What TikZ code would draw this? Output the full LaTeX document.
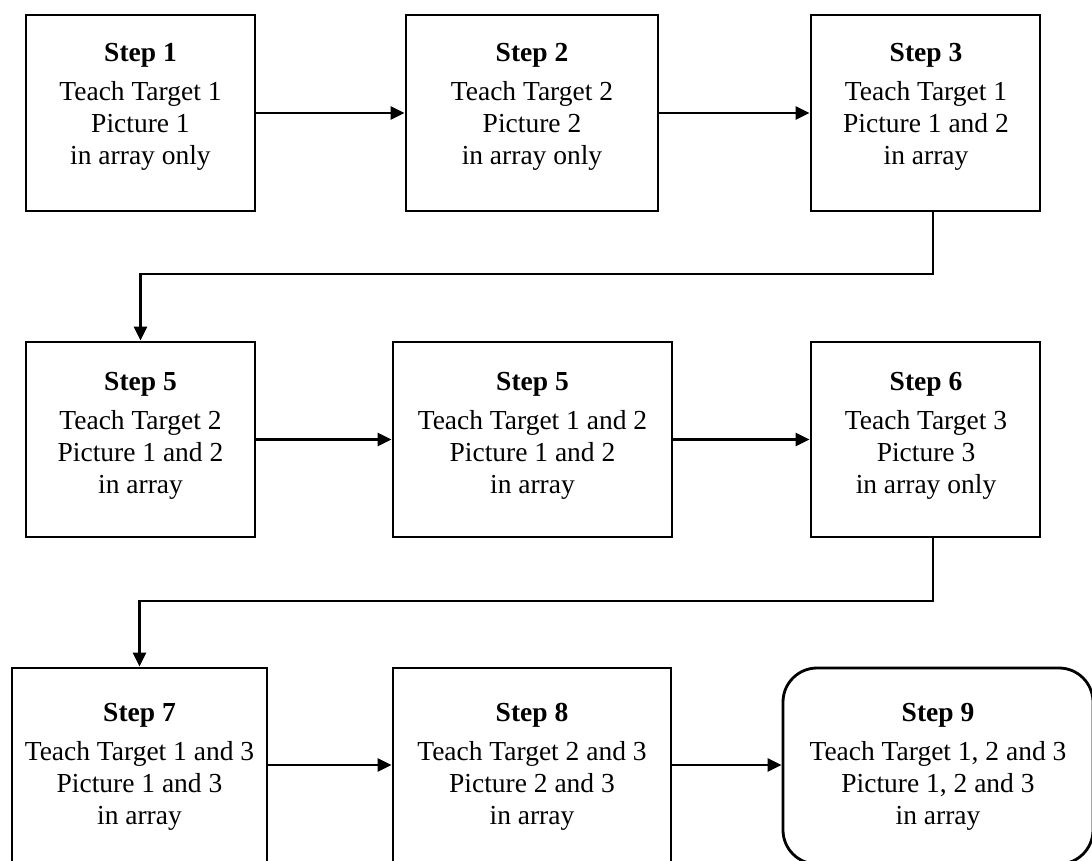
\documentclass[tikz,border=0pt]{standalone}
\usepackage{fontspec}
\setmainfont{Liberation Serif}
\usetikzlibrary{arrows.meta}
\begin{document}
\begin{tikzpicture}[x=1pt,y=-1pt,
  stepbox/.style={draw=black,line width=2.8pt,inner sep=0pt},
  steptext/.style={anchor=north,inner sep=0pt,align=center,font=\fontsize{27.5}{32}\selectfont},
  conn/.style={line width=2.8pt,-{Triangle[length=14pt,width=13pt]}}]
\useasboundingbox (0,0) rectangle (1092,860);
\clip (0,0) rectangle (1092,860);
% boxes
\node[stepbox,minimum width=229pt,minimum height=196pt] (s1) at (140.5,113) {};
\node[stepbox,minimum width=252pt,minimum height=196pt] (s2) at (532,113) {};
\node[stepbox,minimum width=229pt,minimum height=196pt] (s3) at (925.5,113) {};
\node[stepbox,minimum width=229pt,minimum height=195pt] (s4) at (140.5,439.5) {};
\node[stepbox,minimum width=279pt,minimum height=195pt] (s5) at (532.5,439.5) {};
\node[stepbox,minimum width=229pt,minimum height=195pt] (s6) at (925.5,439.5) {};
\node[stepbox,minimum width=255pt,minimum height=198pt] (s7) at (139.5,767) {};
\node[stepbox,minimum width=278pt,minimum height=198pt] (s8) at (532,767) {};
\node[stepbox,rounded corners=34pt,minimum width=310pt,minimum height=196pt] (s9) at (938,766) {};
% texts
\node[steptext] (t1) at (140.5,43) {\textbf{Step 1}\\[7pt]Teach Target 1\\Picture 1\\in array only};
\node[steptext] (t2) at (532,43) {\textbf{Step 2}\\[7pt]Teach Target 2\\Picture 2\\in array only};
\node[steptext] (t3) at (926,43) {\textbf{Step 3}\\[7pt]Teach Target 1\\Picture 1 and 2\\in array};
\node[steptext] (t4) at (140.5,372) {\textbf{Step 5}\\[7pt]Teach Target 2\\Picture 1 and 2\\in array};
\node[steptext] (t5) at (532.5,372) {\textbf{Step 5}\\[7pt]Teach Target 1 and 2\\Picture 1 and 2\\in array};
\node[steptext] (t6) at (926,372) {\textbf{Step 6}\\[7pt]Teach Target 3\\Picture 3\\in array only};
\node[steptext] (t7) at (139.5,703) {\textbf{Step 7}\\[7pt]Teach Target 1 and 3\\Picture 1 and 3\\in array};
\node[steptext] (t8) at (532,703) {\textbf{Step 8}\\[7pt]Teach Target 2 and 3\\Picture 2 and 3\\in array};
\node[steptext] (t9) at (938,703) {\textbf{Step 9}\\[7pt]Teach Target 1, 2 and 3\\Picture 1, 2 and 3\\in array};
% bend points
\coordinate (r1) at (933,274);
\coordinate (l1) at (140.5,274);
\coordinate (r2) at (933,601);
\coordinate (l2) at (139.5,601);
% connectors
\draw[conn] (s1.east) -- (s2.west);
\draw[conn] (s2.east) -- (s3.west);
\draw[conn] (s3.south -| r1) -- (r1) -- (l1) -- (s4.north);
\draw[conn] (s4.east) -- (s5.west);
\draw[conn] (s5.east) -- (s6.west);
\draw[conn] (s6.south -| r2) -- (r2) -- (l2) -- (s7.north);
\draw[conn] (s7.east |- 0,765) -- (s8.west |- 0,765);
\draw[conn] (s8.east |- 0,765) -- (s9.west |- 0,765);
\end{tikzpicture}
\end{document}
